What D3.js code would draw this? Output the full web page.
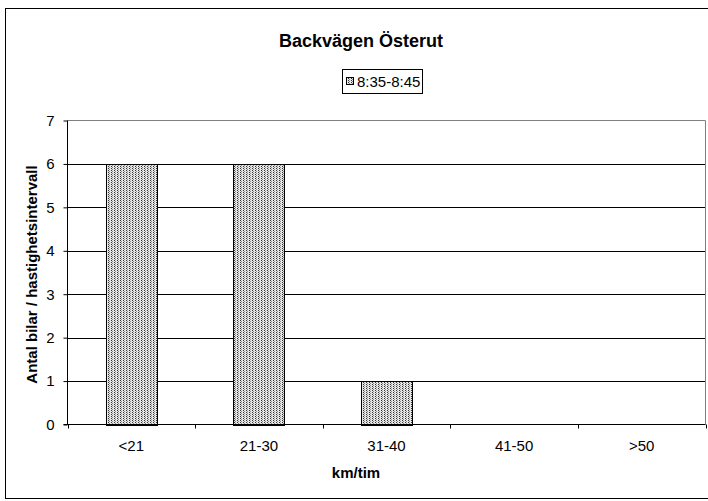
<!DOCTYPE html>
<html>
<head>
<meta charset="utf-8">
<script src="https://cdn.jsdelivr.net/npm/d3@7/dist/d3.min.js"></script>
<style>
  html, body { margin: 0; padding: 0; background: #fff; }
  svg { display: block; }
  text { font-family: "Liberation Sans", Arial, sans-serif; fill: #000; }
</style>
</head>
<body>
<svg id="chart" width="708" height="501"></svg>
<script>
const title = "Backvägen Österut";
const seriesName = "8:35-8:45";
const categories = ["<21", "21-30", "31-40", "41-50", ">50"];
const values = [6, 6, 1, 0, 0];
const yTicks = [0, 1, 2, 3, 4, 5, 6, 7];
const xTitle = "km/tim";
const yTitle = "Antal bilar / hastighetsintervall";

const svg = d3.select("#chart");
const W = 708, H = 501;
const plot = { left: 67.5, right: 705.5, top: 120.5, bottom: 424.5 };

// pattern
const defs = svg.append("defs");
const pat = defs.append("pattern").attr("id", "dots")
  .attr("patternUnits", "userSpaceOnUse").attr("width", 3).attr("height", 2);
pat.append("rect").attr("width", 3).attr("height", 2).attr("fill", "#e6e6e6");
pat.append("rect").attr("x", 0).attr("y", 0).attr("width", 1).attr("height", 1).attr("fill", "#333");
pat.append("rect").attr("x", 1).attr("y", 1).attr("width", 1).attr("height", 1).attr("fill", "#8a8a8a");

// outer frame (right edge cropped)
svg.append("rect").attr("x", 5.5).attr("y", 8.5).attr("width", 720).attr("height", 490)
  .attr("fill", "#fff").attr("stroke", "#000").attr("stroke-width", 1);

const x = d3.scaleBand().domain(categories).range([plot.left, plot.right])
  .paddingInner(0.6).paddingOuter(0.3);
const y = d3.scaleLinear().domain([0, 7]).range([plot.bottom, plot.top]);

// gridlines
svg.append("g").selectAll("line").data(yTicks.filter(t => t > 0 && t < 7)).join("line")
  .attr("x1", plot.left).attr("x2", plot.right)
  .attr("y1", d => Math.round(y(d)) + 0.5).attr("y2", d => Math.round(y(d)) + 0.5)
  .attr("stroke", "#000").attr("stroke-width", 1);

// plot border top/right
svg.append("path")
  .attr("d", `M${plot.left},${plot.top}H${plot.right}V${plot.bottom}`)
  .attr("fill", "none").attr("stroke", "#808080").attr("stroke-width", 1);

// bars
svg.append("g").selectAll("rect").data(categories.map((c, i) => ({ c, v: values[i] })).filter(d => d.v > 0)).join("rect")
  .attr("x", d => Math.round(x(d.c)) + 0.5)
  .attr("y", d => Math.round(y(d.v)) + 0.5)
  .attr("width", d => Math.round(x.bandwidth()))
  .attr("height", d => Math.round(y(0)) - Math.round(y(d.v)))
  .attr("fill", "url(#dots)").attr("stroke", "#000").attr("stroke-width", 1);

// y axis
const yAxis = d3.axisLeft(y).tickValues(yTicks).tickSize(4).tickPadding(9).tickFormat(d3.format("d"));
const gy = svg.append("g").attr("transform", `translate(${plot.left},0)`).call(yAxis);
gy.select(".domain").remove();
gy.selectAll(".tick line").attr("stroke", "#000");
gy.selectAll(".tick text").attr("font-size", 15).attr("font-family", "Liberation Sans, Arial, sans-serif");
svg.append("line").attr("x1", plot.left).attr("x2", plot.left).attr("y1", plot.top).attr("y2", plot.bottom)
  .attr("stroke", "#000");

// x axis
const xEdges = d3.scalePoint().domain(d3.range(categories.length + 1)).range([plot.left, plot.right]);
svg.append("line").attr("x1", plot.left - 4).attr("x2", plot.right).attr("y1", plot.bottom).attr("y2", plot.bottom)
  .attr("stroke", "#000");
svg.append("g").selectAll("line").data(d3.range(categories.length + 1)).join("line")
  .attr("x1", d => Math.round(xEdges(d)) + 0.5).attr("x2", d => Math.round(xEdges(d)) + 0.5)
  .attr("y1", plot.bottom).attr("y2", plot.bottom + 4).attr("stroke", "#000");
svg.append("g").selectAll("text").data(categories).join("text")
  .attr("x", d => x(d) + x.bandwidth() / 2).attr("y", 451)
  .attr("text-anchor", "middle").attr("font-size", 15).text(d => d);

// axis titles
svg.append("text").attr("x", 356).attr("y", 478).attr("text-anchor", "middle")
  .attr("font-size", 15).attr("font-weight", "bold").text(xTitle);
svg.append("text").attr("transform", `translate(37,${(plot.top + plot.bottom) / 2 + 2}) rotate(-90)`)
  .attr("text-anchor", "middle").attr("font-size", 15).attr("font-weight", "bold").text(yTitle);

// title
svg.append("text").attr("x", 361).attr("y", 47).attr("text-anchor", "middle")
  .attr("font-size", 18).attr("font-weight", "bold").text(title);

// legend
svg.append("rect").attr("x", 342.5).attr("y", 69.5).attr("width", 80).attr("height", 24)
  .attr("fill", "#fff").attr("stroke", "#000");
svg.append("rect").attr("x", 346.5).attr("y", 77.5).attr("width", 7).attr("height", 7)
  .attr("fill", "url(#dots)").attr("stroke", "#000");
svg.append("text").attr("x", 357).attr("y", 87).attr("font-size", 15).text(seriesName);
</script>
</body>
</html>
